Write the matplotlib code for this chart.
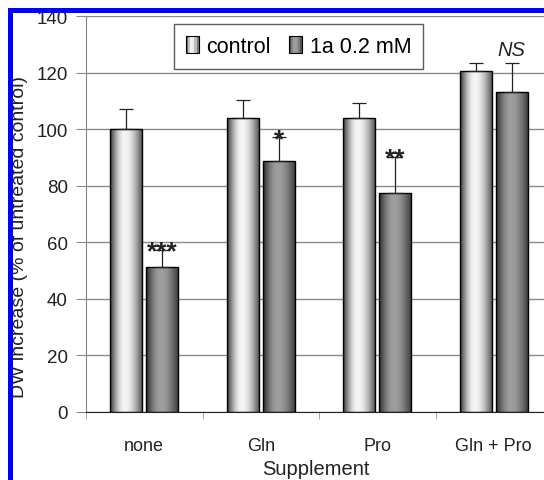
import numpy as np
import matplotlib
matplotlib.use("Agg")
import matplotlib.pyplot as plt
from matplotlib.patches import Rectangle
from matplotlib.legend_handler import HandlerBase

plt.rcParams['font.family'] = ['Liberation Sans', 'DejaVu Sans']

# data
supplements = ["none", "Gln", "Pro", "Gln + Pro"]
control = [100, 103.8, 103.8, 120.4]
control_err = [7, 6.5, 5.5, 3]
treated = [51.2, 88.6, 77.3, 113.3]
treated_err = [6, 8.5, 13, 10]
marks = ["***", "*", "**", "NS"]
series_names = ["control", "1a 0.2 mM"]
yticks = [0, 20, 40, 60, 80, 100, 120, 140]


def gradient(dark, light, right, n=64):
    # cylinder-like shading: dark edge -> light band -> dark edge
    t = np.linspace(0, 1, n)
    g = np.where(t < 0.45, dark + (light - dark) * np.sin(t / 0.45 * np.pi / 2),
                 right + (light - right) * np.cos((t - 0.45) / 0.55 * np.pi / 2))
    return g.reshape(1, -1)


grad_ctrl = gradient(0.22, 0.96, 0.30)
grad_trt = gradient(0.18, 0.62, 0.22)


def shade_bars(ax, bars, grad):
    for b in bars:
        x, w, h = b.get_x(), b.get_width(), b.get_height()
        im = ax.imshow(grad, cmap='gray', vmin=0, vmax=1, aspect='auto',
                       extent=[x, x + w, 0, h], zorder=2, interpolation='bilinear')
        im.set_clip_path(b)
        b.set_facecolor('none')
        b.set_zorder(3)


class GradHandler(HandlerBase):
    def __init__(self, grad):
        super().__init__()
        self.grad = grad

    def create_artists(self, legend, orig_handle, xdescent, ydescent, width, height, fontsize, trans):
        arts = []
        vals = self.grad[0]
        n = 6
        for i in range(n):
            v = vals[int((i + 0.5) / n * (len(vals) - 1))]
            r = Rectangle((-xdescent + i * width / n, -ydescent), width / n, height,
                          facecolor=(v, v, v), edgecolor='none', transform=trans)
            arts.append(r)
        arts.append(Rectangle((-xdescent, -ydescent), width, height, facecolor='none',
                              edgecolor='black', lw=0.8, transform=trans))
        return arts


fig = plt.figure(figsize=(5.44, 4.81), dpi=100)
ax = fig.add_axes([86 / 544, 1 - 413 / 481, 466 / 544, 396 / 481])

x = np.arange(len(supplements))
w = 0.275
off = 0.155
b1 = ax.bar(x - off, control, w, edgecolor='black', linewidth=1.0)
b2 = ax.bar(x + off, treated, w, edgecolor='black', linewidth=1.0)
shade_bars(ax, b1, grad_ctrl)
shade_bars(ax, b2, grad_trt)

ax.errorbar(x - off, control, yerr=[np.zeros(4), control_err], fmt='none',
            ecolor='#222222', elinewidth=0.9, capsize=5, capthick=0.9, zorder=4)
ax.errorbar(x + off, treated, yerr=[np.zeros(4), treated_err], fmt='none',
            ecolor='#222222', elinewidth=0.9, capsize=5, capthick=0.9, zorder=4)

for i, m in enumerate(marks):
    top = treated[i] + treated_err[i]
    if m == "NS":
        ax.text(x[i] + off, top + 1.5, m, ha='center', va='bottom', fontsize=14.5,
                style='italic', color='#222222', zorder=5)
    else:
        ax.text(x[i] + off, top - 3.0, m, ha='center', va='baseline', fontsize=19,
                fontweight='bold', color='#222222', zorder=5)

ax.set_xlim(-0.5, len(supplements) - 0.5)
ax.set_ylim(0, 140)
ax.set_yticks(yticks)
ax.yaxis.grid(True, color='#8a8a8a', linewidth=1.0)
ax.set_axisbelow(True)
ax.set_xticks(x, supplements)
ax.set_xticks(np.arange(len(supplements) + 1) - 0.5, minor=True)
ax.tick_params(axis='x', which='major', length=0, pad=18, labelsize=13, labelcolor='#222222')
ax.tick_params(axis='x', which='minor', length=5, color='#999999', direction='out')
ax.tick_params(axis='y', length=7, color='#888888', pad=6, labelsize=13.5, labelcolor='#222222')
for s in ['top', 'right']:
    ax.spines[s].set_visible(False)
ax.spines['left'].set_color('#888888')
ax.spines['bottom'].set_color('#222222')

leg = ax.legend([b1, b2], series_names, loc='upper left', bbox_to_anchor=(88 / 466, 1 - 8 / 396),
                borderaxespad=0,
                handler_map={b1: GradHandler(grad_ctrl), b2: GradHandler(grad_trt)},
                ncol=2, fontsize=15.5, frameon=True, fancybox=False, handlelength=0.6,
                handleheight=0.8, handletextpad=0.35, columnspacing=0.85, borderpad=0.55)
leg.get_frame().set_edgecolor('#333333')
leg.get_frame().set_linewidth(1.0)

fig.text(316 / 544, 1.5 / 481, "Supplement", ha='center', va='bottom', fontsize=14.5, color='#222222')
fig.text(20 / 544, 1 - 398 / 481, "DW increase (% of untreated control)", rotation=90,
         ha='center', va='bottom', fontsize=14, color='#222222')

# cropped frame: white outside, blue border
fig.add_artist(Rectangle((0, 0), 8 / 544, 1, transform=fig.transFigure, facecolor='white',
                         edgecolor='none', zorder=10))
fig.add_artist(Rectangle((0, 1 - 9 / 481), 1, 9 / 481, transform=fig.transFigure, facecolor='white',
                         edgecolor='none', zorder=10))
fig.add_artist(Rectangle((8 / 544, 0), 5 / 544, 1 - 9 / 481, transform=fig.transFigure,
                         facecolor='#0000ff', edgecolor='none', zorder=11))
fig.add_artist(Rectangle((8 / 544, 1 - 14 / 481), 1, 5 / 481, transform=fig.transFigure,
                         facecolor='#0000ff', edgecolor='none', zorder=11))

fig.savefig("out.png", dpi=100)
